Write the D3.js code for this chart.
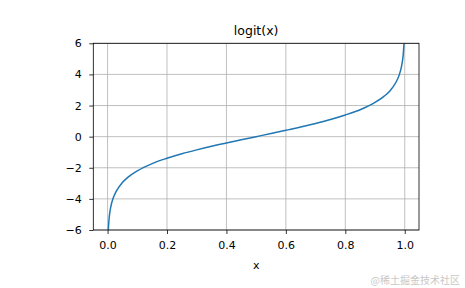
<!DOCTYPE html>
<html>
<head>
<meta charset="utf-8">
<script src="https://cdn.jsdelivr.net/npm/d3@7"></script>
<style>
  body { margin: 0; background: #fff; }
  text { font-family: "DejaVu Sans", sans-serif; fill: #000; }
</style>
</head>
<body>
<div id="chart"></div>
<script>
const xValues = [0.0025, 0.005, 0.01, 0.02, 0.03, 0.05, 0.07, 0.1, 0.15, 0.2, 0.25, 0.3, 0.35, 0.4, 0.45, 0.5,
  0.55, 0.6, 0.65, 0.7, 0.75, 0.8, 0.85, 0.9, 0.93, 0.95, 0.97, 0.98, 0.99, 0.995, 0.9975];
const yValues = [-5.99, -5.29, -4.6, -3.89, -3.48, -2.94, -2.59, -2.2, -1.73, -1.39, -1.1, -0.85, -0.62, -0.41, -0.2, 0,
  0.2, 0.41, 0.62, 0.85, 1.1, 1.39, 1.73, 2.2, 2.59, 2.94, 3.48, 3.89, 4.6, 5.29, 5.99];
const xTicks = [0, 0.2, 0.4, 0.6, 0.8, 1.0];
const yTicks = [-6, -4, -2, 0, 2, 4, 6];

var W = 465, H = 288;
var margin = {top: 43.3, right: 46, bottom: 58, left: 93.3};
var width = W - margin.left - margin.right,
    height = H - margin.top - margin.bottom;

var svg = d3.select("#chart").append("svg").attr("width", W).attr("height", H);
var g = svg.append("g").attr("transform", "translate(" + margin.left + "," + margin.top + ")");

var x = d3.scaleLinear().domain([-0.048, 1.048]).range([0, width]);
var y = d3.scaleLinear().domain([-6, 6]).range([height, 0]);

// grid
g.append("g").selectAll("line").data(xTicks).enter().append("line")
  .attr("x1", d => x(d)).attr("x2", d => x(d)).attr("y1", 0).attr("y2", height)
  .attr("stroke", "#b0b0b0").attr("stroke-width", 0.8);
g.append("g").selectAll("line").data(yTicks).enter().append("line")
  .attr("y1", d => y(d)).attr("y2", d => y(d)).attr("x1", 0).attr("x2", width)
  .attr("stroke", "#b0b0b0").attr("stroke-width", 0.8);

// curve
var data = xValues.map((v, i) => [v, yValues[i]]);
g.append("clipPath").attr("id", "clip").append("rect").attr("width", width).attr("height", height);
g.append("path").datum(data)
  .attr("clip-path", "url(#clip)")
  .attr("fill", "none").attr("stroke", "#1f77b4").attr("stroke-width", 1.5)
  .attr("d", d3.line().x(d => x(d[0])).y(d => y(d[1])).curve(d3.curveMonotoneX));

// axes
var xAxis = g.append("g").attr("transform", "translate(0," + height + ")")
  .call(d3.axisBottom(x).tickValues(xTicks).tickFormat(d3.format(".1f")).tickSize(4).tickPadding(7.5));
var yAxis = g.append("g")
  .call(d3.axisLeft(y).tickValues(yTicks).tickFormat(d3.format("d")).tickSize(4).tickPadding(7.5));
[xAxis, yAxis].forEach(a => {
  a.select(".domain").remove();
  a.selectAll("line").attr("stroke", "#000").attr("stroke-width", 0.8);
  a.selectAll("text").style("font-family", "DejaVu Sans").style("font-size", "11px").attr("fill", "#000");
});

// frame
g.append("rect").attr("width", width).attr("height", height)
  .attr("fill", "none").attr("stroke", "#000").attr("stroke-width", 0.8);

// labels
svg.append("text").attr("x", margin.left + width / 2).attr("y", margin.top - 8)
  .attr("text-anchor", "middle").style("font-size", "12.5px").text("logit(x)");
svg.append("text").attr("x", margin.left + x(0.5)).attr("y", 269)
  .attr("text-anchor", "middle").style("font-size", "11px").text("x");

// watermark
svg.append("text").attr("x", 460).attr("y", 284).attr("text-anchor", "end")
  .style("font-family", "'Noto Sans CJK SC'").style("font-size", "10px")
  .style("fill", "#c8c8c8").text("@稀土掘金技术社区");
</script>
</body>
</html>
